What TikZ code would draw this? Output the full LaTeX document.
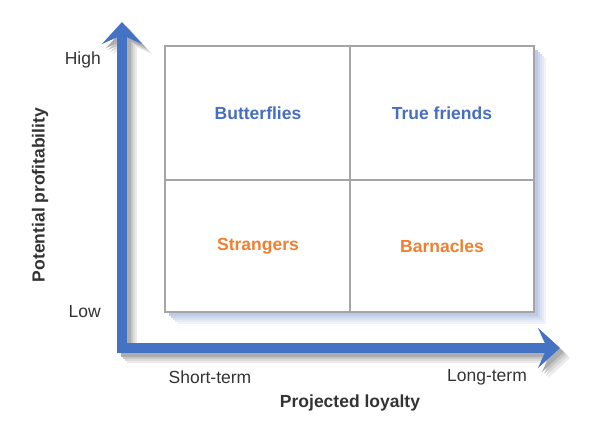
\documentclass[tikz,border=0pt]{standalone}
\usepackage{fontspec}
\setmainfont{Liberation Sans}
\usetikzlibrary{arrows.meta}
\definecolor{axisblue}{RGB}{68,114,196}
\definecolor{quadblue}{RGB}{72,110,190}
\definecolor{quadorange}{RGB}{240,128,48}
\definecolor{gridgray}{RGB}{165,165,165}
\tikzset{
  axis/.style={line width=9.5pt, axisblue, line join=miter,
    {Stealth[length=22pt,width=40pt,inset=9pt]}-{Stealth[length=22pt,width=40pt,inset=9pt]}},
  quadlabel/.style={font=\fontsize{17.5}{20}\selectfont\bfseries, inner sep=0pt},
  axislabel/.style={font=\fontsize{17.5}{20}\selectfont, text=black!80, inner sep=0pt},
}
\begin{document}
\begin{tikzpicture}[x=1pt,y=-1pt]
\useasboundingbox (0,0) rectangle (602,433);
% named corners of the axes
\coordinate (ytip) at (122,22);
\coordinate (origin) at (122,348);
\coordinate (xtip) at (560,348);
% soft shadow of the box
\foreach \d/\c in {12/8,10/14,8/20,6/28,4/36}
  \fill[quadblue!\c] (165+\d,46+\d) rectangle (534+\d,312+\d);
% soft shadow of the axes
\foreach \d/\c in {10/8,8/14,6/22,4/32}
  \draw[axis, black!\c] ([shift={(\d,\d)}]ytip) |- ([shift={(\d,\d)}]xtip);
\draw[axis] (ytip) |- (xtip);
% the grid
\fill[white] (165,46) rectangle (534,312);
\draw[line width=1.4pt, gridgray] (165,46) rectangle (534,312);
\draw[line width=1.4pt, gridgray] (350,46) -- (350,312);
\draw[line width=1.4pt, gridgray] (165,180) -- (534,180);
\node[quadlabel, text=quadblue] (butterflies) at (258,113) {Butterflies};
\node[quadlabel, text=quadblue] (truefriends) at (442,113) {True friends};
\node[quadlabel, text=quadorange] (strangers) at (258,246) {Strangers};
\node[quadlabel, text=quadorange] (barnacles) at (442,246) {Barnacles};
% axis labels
\node[axislabel, anchor=east] (high) at (101,60) {High};
\node[axislabel, anchor=east] (low) at (101,312) {Low};
\node[axislabel, font=\fontsize{17.5}{20}\selectfont\bfseries, rotate=90] (profit) at (40,195) {Potential profitability};
\node[axislabel] (short) at (210,377) {Short-term};
\node[axislabel] (long) at (487,377) {Long-term};
\node[axislabel, font=\fontsize{17.5}{20}\selectfont\bfseries] (loyalty) at (350,403) {Projected loyalty};
\end{tikzpicture}
\end{document}
